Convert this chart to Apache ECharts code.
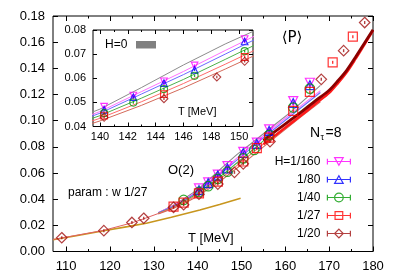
<!DOCTYPE html>
<html><head><meta charset="utf-8">
<script src="https://cdn.jsdelivr.net/npm/echarts@6/dist/echarts.min.js"></script>
<style>html,body{margin:0;padding:0;background:#fff}#c{width:398px;height:279px}</style>
</head><body><div id="c"></div>
<script>
// ---- tick values ----
const xTicksMain = [110,120,130,140,150,160,170,180];
const xMinorMain = [115,125,135,145,155,165,175];
const xTicksInset = [140,142,144,146,148,150];
const xMinorInset = [141,143,145,147,149];

// ---- data points (T [MeV], <P>) ----
const T_160 = [140.3,142.4,144.6,146.8,150.4,153.5,156.3,161.8,165.6];
const P_160 = [0.0482,0.0528,0.0587,0.0653,0.0762,0.0832,0.0934,0.1150,0.1290];
const T_80  = [140.3,142.4,144.6,146.8,150.4,153.5,156.3,161.8,165.6];
const P_80  = [0.0469,0.0522,0.0580,0.0635,0.0753,0.0822,0.0922,0.1135,0.1272];
const T_40  = [136.8,140.3,142.4,144.6,146.8,150.4,152.9,156.3,161.8,165.6];
const P_40  = [0.0394,0.0455,0.0499,0.0555,0.0610,0.0712,0.0776,0.0890,0.1100,0.1245];
const T_27  = [134.5,136.8,140.3,144.6,150.4,153.5,156.3,161.8,165.6,170.8,175.4];
const P_27  = [0.0343,0.0373,0.0445,0.0534,0.0688,0.0790,0.0870,0.1075,0.1220,0.1446,0.1642];
const T_20  = [109.0,118.6,125.0,127.7,134.5,136.8,140.3,144.6,148.4,150.4,156.5,168.2,173.3,178.1];
const P_20  = [0.0105,0.0159,0.0222,0.0254,0.0338,0.0358,0.0438,0.0515,0.0605,0.0670,0.0840,0.1316,0.1535,0.1750];

// ---- O(2) scaling fit curves ----
const fitT      = [131,134,137,140,143,146,149,152,155,158,161,164,168];
const fit_H0    = [0.0294,0.0345,0.0405,0.0472,0.0562,0.0655,0.0742,0.0820,0.0900,0.0980,0.1060,0.1150,0.1270];
const fit_160   = [0.0298,0.0342,0.0398,0.0462,0.0545,0.0628,0.0715,0.0800,0.0885,0.0965,0.1045,0.1125,0.1230];
const fit_80    = [0.0296,0.0338,0.0392,0.0455,0.0535,0.0615,0.0700,0.0785,0.0870,0.0950,0.1030,0.1110,0.1215];
const fit_40    = [0.0293,0.0333,0.0384,0.0445,0.0518,0.0595,0.0678,0.0762,0.0845,0.0925,0.1005,0.1085,0.1190];
const fit_27    = [0.0290,0.0328,0.0376,0.0434,0.0503,0.0578,0.0658,0.0740,0.0822,0.0900,0.0980,0.1060,0.1165];
const fit_20    = [0.0287,0.0323,0.0368,0.0423,0.0488,0.0560,0.0638,0.0718,0.0800,0.0880,0.0960,0.1040,0.1145];

// ---- parametrisation curves (high T) ----
const parT      = [155,158,161,164,167,170,172,174,176,178,180];
const par_dark  = [0.0850,0.0925,0.1000,0.1075,0.1155,0.1232,0.1305,0.1385,0.1485,0.1590,0.1695];
const par_red   = [0.0820,0.0895,0.0972,0.1050,0.1132,0.1212,0.1287,0.1370,0.1472,0.1580,0.1688];

// ---- low-T curves ----
const goldT = [107,112,118.6,124,128.3,134,140.5,145,149.8];
const goldP = [0.0090,0.0118,0.0159,0.0190,0.0216,0.0262,0.0317,0.0360,0.0407];
const lowT  = [107,112,118.6,125,127.7,131,134.5];
const lowP  = [0.0092,0.0122,0.0162,0.0219,0.0250,0.0290,0.0336];

const FONT = "'Liberation Sans', Arial, sans-serif";
const zip = (a,b) => a.map((t,i)=>[t,b[i]]);

const C = {h160:'#ff00ff', h80:'#0000ff', h40:'#009900', h27:'#ff0000', h20:'#a01010'};
const FC = {h0:'#8c8c8c', h160:'#ff70ff', h80:'#6a6aff', h40:'#4caf4c', h27:'#ff6a6a', h20:'#d46a5a'};

const pts = [
  {key:'h160', name:'H=1/160', T:T_160, P:P_160, sym:'triangle', rot:180, size:9},
  {key:'h80',  name:'1/80',    T:T_80,  P:P_80,  sym:'triangle', rot:0,   size:9},
  {key:'h40',  name:'1/40',    T:T_40,  P:P_40,  sym:'circle',   rot:0,   size:9.5},
  {key:'h27',  name:'1/27',    T:T_27,  P:P_27,  sym:'rect',     rot:0,   size:9},
  {key:'h20',  name:'1/20',    T:T_20,  P:P_20,  sym:'diamond',  rot:0,   size:10.5}
];
const fits = [
  ['h0',fit_H0],['h160',fit_160],['h80',fit_80],['h40',fit_40],['h27',fit_27],['h20',fit_20]
];

const series = [];
// low-T lines
series.push({type:'line', name:'gold', data:zip(goldT,goldP), showSymbol:false, silent:true,
  lineStyle:{color:'#c8961e', width:1.6}, z:2});
series.push({type:'line', name:'low', data:zip(lowT,lowP), showSymbol:false, silent:true,
  lineStyle:{color:'#e06060', width:1}, z:2});
// O(2) fits main
fits.forEach(([k,arr])=>series.push({type:'line', name:'fit'+k, data:zip(fitT,arr), showSymbol:false, silent:true,
  lineStyle:{color:FC[k], width:1.1}, z:2}));
// param curves
series.push({type:'line', name:'parR', data:zip(parT,par_red), showSymbol:false, silent:true, smooth:0.3,
  lineStyle:{color:'#ff1a1a', width:2.5}, z:2});
series.push({type:'line', name:'parD', data:zip(parT,par_dark), showSymbol:false, silent:true, smooth:0.3,
  lineStyle:{color:'#8b0000', width:2.8}, z:2});
// points main
pts.forEach(p=>{
  series.push({type:'scatter', name:p.name, data:zip(p.T,p.P), symbol:p.sym, symbolRotate:p.rot, symbolSize:p.size,
    itemStyle:{color:'rgba(0,0,0,0)', borderColor:C[p.key], borderWidth:1.2}, z:4});
  series.push({type:'scatter', name:'eb'+p.key, data:zip(p.T,p.P), symbol:'rect', symbolSize:[1.4,3],
    itemStyle:{color:C[p.key]}, silent:true, z:4});
});
// inset
fits.forEach(([k,arr])=>series.push({type:'line', name:'ifit'+k, xAxisIndex:4, yAxisIndex:2, data:zip(fitT,arr),
  showSymbol:false, silent:true, lineStyle:{color:FC[k], width:1}, z:5}));
pts.forEach(p=>{
  series.push({type:'scatter', name:'i'+p.key, xAxisIndex:4, yAxisIndex:2, data:zip(p.T,p.P), symbol:p.sym,
    symbolRotate:p.rot, symbolSize:p.size*0.75,
    itemStyle:{color:'rgba(0,0,0,0)', borderColor:C[p.key], borderWidth:1.1}, z:6});
  series.push({type:'scatter', name:'ieb'+p.key, xAxisIndex:4, yAxisIndex:2, data:zip(p.T,p.P), symbol:'rect',
    symbolSize:[1.3,2.5], itemStyle:{color:C[p.key]}, silent:true, z:6});
});

const tick = (len, vals) => ({show:true, inside:true, length:len, customValues:vals, lineStyle:{color:'#000', width:1}});
const noLab = {show:false};
const noLine = {show:false};
const noSplit = {show:false};

const xAxes = [
  {gridIndex:0, type:'value', position:'bottom', min:107, max:180, axisLine:noLine, splitLine:noSplit,
   axisTick:tick(5,xTicksMain), axisLabel:{customValues:xTicksMain, fontSize:13, color:'#000', fontFamily:FONT, margin:8}},
  {gridIndex:0, type:'value', position:'bottom', min:107, max:180, axisLine:noLine, splitLine:noSplit,
   axisTick:tick(2.5,xMinorMain), axisLabel:noLab},
  {gridIndex:0, type:'value', position:'top', min:107, max:180, axisLine:noLine, splitLine:noSplit,
   axisTick:tick(5,xTicksMain), axisLabel:noLab},
  {gridIndex:0, type:'value', position:'top', min:107, max:180, axisLine:noLine, splitLine:noSplit,
   axisTick:tick(2.5,xMinorMain), axisLabel:noLab},
  {gridIndex:1, type:'value', position:'bottom', min:139.5, max:151, axisLine:noLine, splitLine:noSplit,
   axisTick:tick(4,xTicksInset), axisLabel:{customValues:xTicksInset, fontSize:11, color:'#000', fontFamily:FONT, margin:5}},
  {gridIndex:1, type:'value', position:'bottom', min:139.5, max:151, axisLine:noLine, splitLine:noSplit,
   axisTick:tick(2,xMinorInset), axisLabel:noLab},
  {gridIndex:1, type:'value', position:'top', min:139.5, max:151, axisLine:noLine, splitLine:noSplit,
   axisTick:tick(4,xTicksInset), axisLabel:noLab},
  {gridIndex:1, type:'value', position:'top', min:139.5, max:151, axisLine:noLine, splitLine:noSplit,
   axisTick:tick(2,xMinorInset), axisLabel:noLab}
];
const yTick = (len) => ({show:true, inside:true, length:len, lineStyle:{color:'#000', width:1}});
const yAxes = [
  {gridIndex:0, type:'value', position:'left', min:0, max:0.18, interval:0.02, axisLine:noLine, splitLine:noSplit,
   axisTick:yTick(5), axisLabel:{fontSize:13, color:'#000', fontFamily:FONT, margin:8, formatter:v=>v.toFixed(2)}},
  {gridIndex:0, type:'value', position:'right', min:0, max:0.18, interval:0.02, axisLine:noLine, splitLine:noSplit,
   axisTick:yTick(5), axisLabel:noLab},
  {gridIndex:1, type:'value', position:'left', min:0.04, max:0.08, interval:0.01, axisLine:noLine, splitLine:noSplit,
   axisTick:yTick(4), axisLabel:{fontSize:11, color:'#000', fontFamily:FONT, margin:7, formatter:v=>v.toFixed(2)}},
  {gridIndex:1, type:'value', position:'right', min:0.04, max:0.08, interval:0.01, axisLine:noLine, splitLine:noSplit,
   axisTick:yTick(4), axisLabel:noLab}
];

const lg = (shape) => 'path://M0,5L24,5M0,2L0,8M24,2L24,8' + shape;
const legendData = [
  {name:'H=1/160', icon:lg('M7.5,1L16.5,1L12,9Z'), itemStyle:{color:'rgba(0,0,0,0)', borderColor:C.h160, borderWidth:1.2}},
  {name:'1/80', icon:lg('M7.5,9L16.5,9L12,1Z'), itemStyle:{color:'rgba(0,0,0,0)', borderColor:C.h80, borderWidth:1.2}},
  {name:'1/40', icon:lg('M16.5,5A4.5,4.5,0,1,1,7.5,5A4.5,4.5,0,1,1,16.5,5Z'), itemStyle:{color:'rgba(0,0,0,0)', borderColor:C.h40, borderWidth:1.2}},
  {name:'1/27', icon:lg('M8,1L16,1L16,9L8,9Z'), itemStyle:{color:'rgba(0,0,0,0)', borderColor:C.h27, borderWidth:1.2}},
  {name:'1/20', icon:lg('M12,0.5L16.5,5L12,9.5L7.5,5Z'), itemStyle:{color:'rgba(0,0,0,0)', borderColor:C.h20, borderWidth:1.2}}
];

const txt = (text, x, y, size, align, extra) => Object.assign({type:'text', x:x, y:y, z:100, silent:true,
  style:{text:text, fill:'#000', font:size+'px '+FONT, align:align||'left', verticalAlign:'middle'}}, extra||{});

const option = {
  animation:false,
  backgroundColor:'#fff',
  grid:[
    {left:53, top:16, width:320, height:235.5, show:true, borderColor:'#000', borderWidth:1, backgroundColor:'rgba(0,0,0,0)', outerBoundsMode:'none', containLabel:false},
    {left:93, top:30, width:160, height:96.5, show:true, borderColor:'#000', borderWidth:1, backgroundColor:'#fff', outerBoundsMode:'none', containLabel:false}
  ],
  xAxis:xAxes,
  yAxis:yAxes,
  legend:{orient:'vertical', align:'right', right:42, top:150, itemWidth:23, itemHeight:10, itemGap:5,
    selectedMode:false,
    textStyle:{fontSize:12, color:'#000', fontFamily:FONT, lineHeight:13, padding:[0,2,0,0]},
    data:legendData},
  graphic:[
    txt('T [MeV]', 188, 238, 13),
    txt('O(2)', 181, 170, 13, 'center'),
    txt('param : w 1/27', 68, 193, 12),
    {type:'text', x:292, y:38, z:100, silent:true, style:{text:'\u27E8P\u27E9', fill:'#000', font:"15px 'DejaVu Sans', 'Liberation Sans', sans-serif", align:'center', verticalAlign:'middle'}},
    txt('N', 310, 133, 14),
    txt('\u03C4', 320.5, 137.5, 9),
    txt('=8', 325.5, 133, 14),
    txt('H=0', 105, 45, 12),
    {type:'rect', z:100, silent:true, shape:{x:136, y:41, width:20, height:7.5}, style:{fill:'#808080'}},
    txt('T [MeV]', 178, 111.7, 11)
  ],
  series:series
};
const chart = echarts.init(document.getElementById('c'), null, {renderer:'canvas', width:398, height:279});
chart.setOption(option);
</script></body></html>
